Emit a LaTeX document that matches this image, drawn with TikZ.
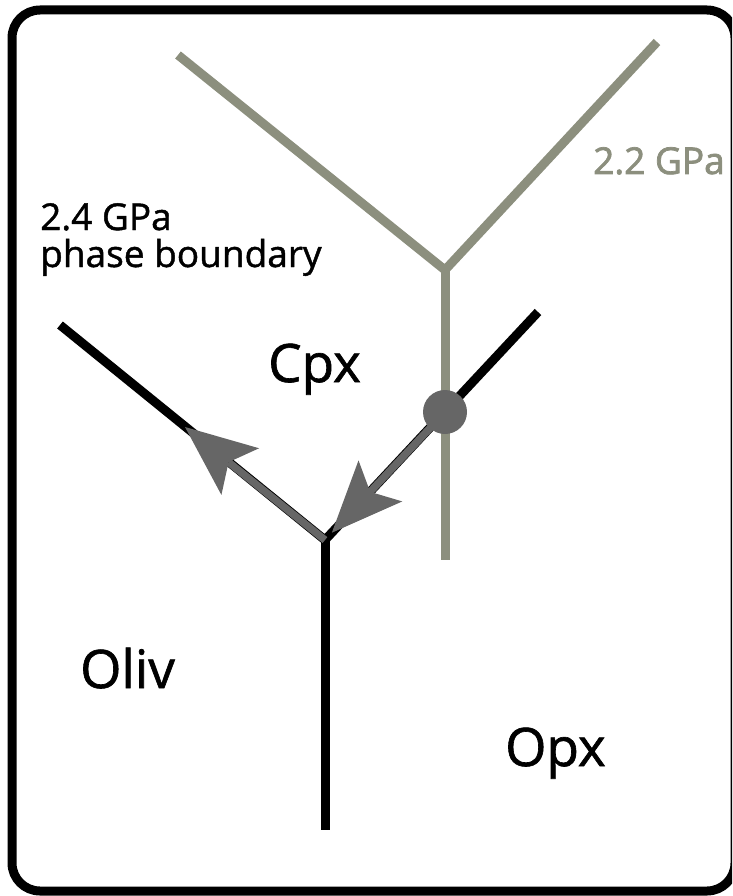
\documentclass[tikz,border=0pt]{standalone}
\usepackage{fontspec}
\setmainfont{Open Sans}
\newfontfamily\semifont[FakeBold=1.2]{Open Sans}
\newfontfamily\semifontb[FakeBold=2]{Open Sans}
\usetikzlibrary{arrows.meta,calc}
\definecolor{ygray}{RGB}{140,143,126}
\definecolor{agray}{RGB}{102,102,102}
\begin{document}
\begin{tikzpicture}[x=1pt,y=-1pt,
  frame/.style={line width=9pt, black, rounded corners=28pt},
  bline/.style={line width=9pt, black},
  gline/.style={line width=9pt, ygray},
  aline/.style={line width=7.5pt, agray},
  atip/.style={-{Stealth[length=71pt,width=60pt,inset=15pt,line width=0pt]}},
  lbl/.style={anchor=base west, inner sep=0pt, font=\semifont\fontsize{53}{60}\selectfont},
  sml/.style={anchor=base west, inner sep=0pt, font=\semifont\fontsize{37}{37}\selectfont},
]
\useasboundingbox (0,0) rectangle (732,896);
\clip (0,0) rectangle (732,896);
\draw[frame] (12,10) rectangle (735,891);

% coordinates
\coordinate (GJ) at (445,270);
\coordinate (GUL) at (178,55);
\coordinate (GUR) at (657,42);
\coordinate (GB) at (445,560);
\coordinate (BJ) at (325,540);
\coordinate (BUL) at (60,325);
\coordinate (BUR) at (538,312);
\coordinate (BB) at (325,830);
\coordinate (D) at (445,412);
\coordinate (ATL) at (185,427);

% grey (2.2 GPa) boundary
\draw[gline] (GUL) -- (GJ) -- (GUR);
\draw[gline] (GJ) -- (GB);

% black (2.4 GPa) boundary
\draw[bline] (BUL) -- (BJ) -- (BUR);
\draw[bline] (BJ) -- (BB);

% path arrows
\draw[aline, atip] (D) -- ($(BJ)!10pt!(D)$);
\draw[aline, atip] (BJ) -- (ATL);
\fill[agray] (D) circle (22pt);

% labels
\node[lbl] (cpx) at (268,382) {Cpx};
\node[lbl] (oliv) at (80,688) {Oliv};
\node[lbl] (opx) at (505,766) {Opx};
\node[sml] (p24) at (40,230) {2.4 GPa};
\node[sml] (pb) at (40,267) {phase boundary};
\node[sml, text=ygray, font=\semifontb\fontsize{37}{37}\selectfont] (p22) at (593,174) {2.2 GPa};
\end{tikzpicture}
\end{document}
